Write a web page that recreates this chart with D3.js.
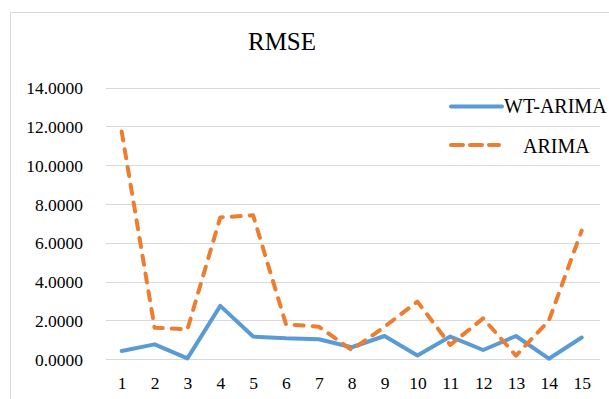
<!DOCTYPE html>
<html>
<head>
<meta charset="utf-8">
<script src="https://cdn.jsdelivr.net/npm/d3@7"></script>
<style>
  html, body { margin: 0; padding: 0; background: #fff; }
  svg { display: block; }
</style>
</head>
<body>
<svg id="chart" width="609" height="399"></svg>
<script>
// Test index 1..15
const categories = ["1","2","3","4","5","6","7","8","9","10","11","12","13","14","15"];
// RMSE per test
const wtArima = [0.43, 0.77, 0.05, 2.75, 1.17, 1.08, 1.03, 0.62, 1.20, 0.20, 1.17, 0.48, 1.20, 0.03, 1.12];
const arima   = [11.73, 1.63, 1.54, 7.31, 7.42, 1.80, 1.68, 0.48, 1.68, 2.97, 0.74, 2.11, 0.19, 1.99, 6.63];
const yTicks  = [0, 2, 4, 6, 8, 10, 12, 14];
const seriesNames = ["WT-ARIMA", "ARIMA"];

const SERIF = "'Liberation Serif', 'Times New Roman', 'DejaVu Serif', serif";
const svg = d3.select("#chart");

function serif(sel) {
  return sel.attr("font-family", SERIF).style("font-family", SERIF).attr("fill", "#000");
}

// chart frame
svg.append("path")
  .attr("d", "M10.5,400 V12.5 H610")
  .attr("fill", "none")
  .attr("stroke", "#d9d9d9")
  .attr("stroke-width", 1);

const x = d3.scalePoint().domain(categories).range([121.7, 581.7]);
const y = d3.scaleLinear().domain([0, 14]).range([359.3, 87.5]);

// gridlines
svg.append("g").selectAll("line").data(yTicks).join("line")
  .attr("x1", 106).attr("x2", 600)
  .attr("y1", d => Math.round(y(d)) + 0.5)
  .attr("y2", d => Math.round(y(d)) + 0.5)
  .attr("stroke", "#d9d9d9").attr("stroke-width", 1);

// y axis labels
const yAxis = d3.axisLeft(y).tickValues(yTicks).tickSize(0).tickPadding(0)
  .tickFormat(d3.format(".4f"));
svg.append("g").attr("transform", "translate(83,0)").call(yAxis)
  .call(serif)
  .call(g => g.select(".domain").remove())
  .call(g => serif(g.selectAll("text")).attr("font-size", 17.5).attr("dy", "0.35em"));

// x axis labels
const xAxis = d3.axisBottom(x).tickSize(0).tickPadding(0);
svg.append("g").attr("transform", "translate(0,389)").call(xAxis)
  .call(serif)
  .call(g => g.select(".domain").remove())
  .call(g => serif(g.selectAll("text")).attr("font-size", 17.5).attr("dy", 0));

const line = d3.line().x((d, i) => x(categories[i])).y(d => y(d));

svg.append("path").datum(wtArima)
  .attr("d", line).attr("fill", "none")
  .attr("stroke", "#5B9BD5").attr("stroke-width", 4)
  .attr("stroke-linejoin", "round").attr("stroke-linecap", "round");

svg.append("path").datum(arima)
  .attr("d", line).attr("fill", "none")
  .attr("stroke", "#ED7D31").attr("stroke-width", 4)
  .attr("stroke-dasharray", "9,9")
  .attr("stroke-linecap", "round")
  .attr("stroke-linejoin", "round");

// title
svg.append("text").attr("x", 282).attr("y", 50)
  .attr("text-anchor", "middle").attr("font-size", 25).call(serif).text("RMSE");

// legend
const legend = svg.append("g");
legend.append("line").attr("x1", 451).attr("x2", 502).attr("y1", 106.5).attr("y2", 106.5)
  .attr("stroke", "#5B9BD5").attr("stroke-width", 4).attr("stroke-linecap", "round");
legend.append("text").attr("x", 504).attr("y", 113).attr("font-size", 20).call(serif).text(seriesNames[0]);
legend.append("line").attr("x1", 451).attr("x2", 499).attr("y1", 145).attr("y2", 145)
  .attr("stroke", "#ED7D31").attr("stroke-width", 4)
  .attr("stroke-dasharray", "12,7").attr("stroke-linecap", "round");
legend.append("text").attr("x", 523).attr("y", 153).attr("font-size", 20).call(serif).text(seriesNames[1]);
</script>
</body>
</html>
